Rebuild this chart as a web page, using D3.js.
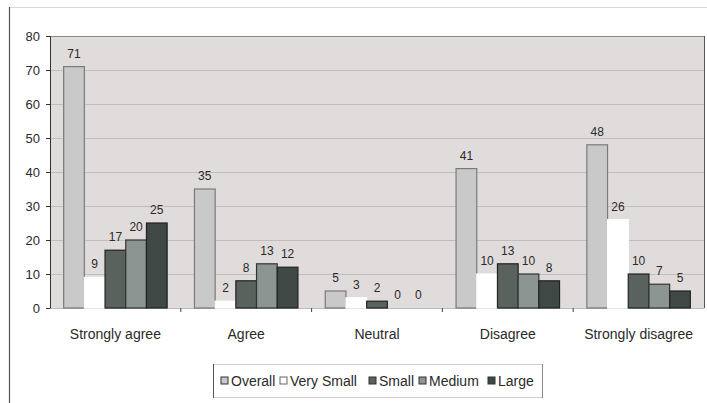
<!DOCTYPE html>
<html>
<head>
<meta charset="utf-8">
<script src="https://cdn.jsdelivr.net/npm/d3@7"></script>
<style>
  html, body { margin: 0; padding: 0; background: #fff; }
  svg { display: block; font-family: "Liberation Sans", Arial, sans-serif; }
</style>
</head>
<body>
<svg id="chart" width="707" height="403"></svg>
<script>
// Survey responses by company size
const categories = ["Strongly agree", "Agree", "Neutral", "Disagree", "Strongly disagree"];
const seriesNames = ["Overall", "Very Small", "Small", "Medium", "Large"];
const overall   = [71, 35, 5, 41, 48];
const verySmall = [9, 2, 3, 10, 26];
const small     = [17, 8, 2, 13, 10];
const medium    = [20, 13, 0, 10, 7];
const large     = [25, 12, 0, 8, 5];
const yTicks    = [0, 10, 20, 30, 40, 50, 60, 70, 80];

const seriesValues = [overall, verySmall, small, medium, large];
const colors = ["#c9c9c9", "#ffffff", "#5a625e", "#8d9592", "#3f4844"];
const strokes = ["#7a7a7a", "#ffffff", "#222", "#333", "#222"];

const svg = d3.select("#chart");
const plot = { left: 50, right: 704, top: 36, bottom: 308 };

// outer frame
svg.append("rect").attr("x", 9.5).attr("y", 7.5).attr("width", 720).attr("height", 420)
  .attr("fill", "none").attr("stroke", "#d8d8d8");
svg.append("line").attr("x1", 9.5).attr("x2", 9.5).attr("y1", 7).attr("y2", 403)
  .attr("stroke", "#555").attr("stroke-width", 1.2);

const x0 = d3.scaleBand().domain(categories).range([plot.left, plot.right]).padding(0);
const x1 = d3.scaleBand().domain(seriesNames).range([0, x0.bandwidth()]).paddingOuter(0.66).paddingInner(0);
const y = d3.scaleLinear().domain([0, 80]).range([plot.bottom, plot.top]);

// plot background
svg.append("rect").attr("x", plot.left).attr("y", plot.top)
  .attr("width", plot.right - plot.left).attr("height", plot.bottom - plot.top)
  .attr("fill", "#e1dcdc");

// gridlines
svg.append("g").selectAll("line").data(yTicks.filter(d => d > 0)).join("line")
  .attr("x1", plot.left).attr("x2", plot.right)
  .attr("y1", d => Math.round(y(d)) + 0.5).attr("y2", d => Math.round(y(d)) + 0.5)
  .attr("stroke", d => d === 80 ? "#8a8686" : "#c2bdbd").attr("stroke-width", 1);

// right border of plot
svg.append("line").attr("x1", plot.right + 0.5).attr("x2", plot.right + 0.5)
  .attr("y1", plot.top).attr("y2", plot.bottom).attr("stroke", "#555");

// y axis
const yAxis = svg.append("g").attr("transform", `translate(${plot.left},0)`)
  .call(d3.axisLeft(y).tickValues(yTicks).tickSize(4).tickPadding(6));
yAxis.select(".domain").attr("stroke", "#333");
yAxis.selectAll(".tick line").attr("stroke", "#333");
yAxis.selectAll("text").attr("font-size", 13).attr("fill", "#2a2a2a")
  .attr("font-family", "Liberation Sans, Arial, sans-serif");

// x axis
const xAxis = svg.append("g").attr("transform", `translate(0,${plot.bottom})`)
  .call(d3.axisBottom(x0).tickSize(0).tickPadding(21));
xAxis.select(".domain").attr("stroke", "#bbb");
xAxis.selectAll("text").attr("font-size", 14).attr("fill", "#2a2a2a")
  .attr("font-family", "Liberation Sans, Arial, sans-serif");
// group separator ticks
svg.append("g").selectAll("line").data(categories.slice(1)).join("line")
  .attr("x1", d => x0(d)).attr("x2", d => x0(d))
  .attr("y1", plot.bottom).attr("y2", plot.bottom + 4)
  .attr("stroke", "#444");

// bars
const groups = svg.append("g").selectAll("g").data(categories).join("g")
  .attr("transform", d => `translate(${x0(d)},0)`);

groups.each(function(cat, ci) {
  const g = d3.select(this);
  seriesNames.forEach((s, si) => {
    const v = seriesValues[si][ci];
    if (v > 0) {
      g.append("rect")
        .attr("x", x1(s)).attr("y", y(v))
        .attr("width", x1.bandwidth()).attr("height", y(0) - y(v))
        .attr("fill", colors[si]).attr("stroke", strokes[si]).attr("stroke-width", 1.2);
    }
    g.append("text")
      .attr("x", x1(s) + x1.bandwidth() / 2).attr("y", y(v) - 9)
      .attr("text-anchor", "middle").attr("font-size", 12).attr("fill", "#2a2a2a")
      .text(v);
  });
});

// legend
const legend = svg.append("g");
legend.append("rect").attr("x", 213.5).attr("y", 364.5).attr("width", 329).attr("height", 33)
  .attr("fill", "#fff").attr("stroke", "#cfcfcf");
legend.append("line").attr("x1", 213.5).attr("x2", 213.5).attr("y1", 364).attr("y2", 398).attr("stroke", "#555");
legend.append("line").attr("x1", 542.5).attr("x2", 542.5).attr("y1", 364).attr("y2", 398).attr("stroke", "#888");
const legendX = [221, 280, 369, 419, 488];
seriesNames.forEach((s, i) => {
  legend.append("rect").attr("x", legendX[i]).attr("y", 377).attr("width", 7).attr("height", 7)
    .attr("fill", colors[i]).attr("stroke", i === 1 ? "#666" : "#333").attr("stroke-width", 1);
  legend.append("text").attr("x", legendX[i] + 10).attr("y", 386)
    .attr("font-size", 14).attr("fill", "#2a2a2a").text(s);
});
</script>
</body>
</html>
